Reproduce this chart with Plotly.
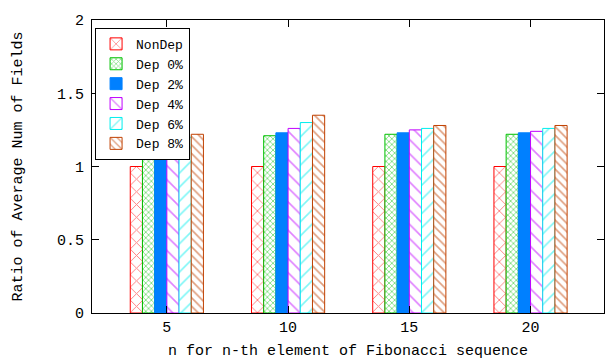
import plotly.graph_objects as go

n_values = [5, 10, 15, 20]
series_names = ["NonDep", "Dep 0%", "Dep 2%", "Dep 4%", "Dep 6%", "Dep 8%"]
nondep = [1.00, 1.00, 1.00, 1.00]
dep0 = [1.17, 1.21, 1.22, 1.22]
dep2 = [1.18, 1.23, 1.23, 1.23]
dep4 = [1.19, 1.26, 1.25, 1.24]
dep6 = [1.20, 1.30, 1.26, 1.26]
dep8 = [1.22, 1.35, 1.28, 1.28]
y_ticks = [0, 0.5, 1, 1.5, 2]
y_tick_labels = ["0", "0.5", "1", "1.5", "2"]

series_values = [nondep, dep0, dep2, dep4, dep6, dep8]
colors = ["#ff0000", "#00c000", "#0080ff", "#c000ff", "#00eeee", "#c04000"]
patterns = [("x", 9, 0.2), ("x", 4, 0.4), ("", 8, 0.3), ("\\", 10, 0.16),
            ("/", 10, 0.16), ("\\", 6, 0.28)]

FONT = "Liberation Mono, DejaVu Sans Mono, monospace"
bar_w = 0.503

fig = go.Figure()
for i, (name, vals, col, pat) in enumerate(zip(series_names, series_values, colors, patterns)):
    offset = (i - 3) * bar_w
    shape, size, sol = pat
    if shape == "":
        marker = dict(color=col, line=dict(color=col, width=1))
    else:
        marker = dict(color="white", line=dict(color=col, width=1),
                      pattern=dict(shape=shape, fgcolor=col, bgcolor="white",
                                   size=size, solidity=sol, fillmode="overlay"))
    fig.add_trace(go.Bar(x=n_values, y=vals, name=name, width=bar_w,
                         offset=offset, marker=marker))

axis_common = dict(showline=True, linecolor="black", linewidth=1, mirror="ticks",
                   ticks="inside", ticklen=7, tickcolor="black", showgrid=False,
                   zeroline=False, automargin=False,
                   tickfont=dict(family=FONT, size=15, color="black"))

fig.update_xaxes(range=[1.913, 23.03], tickvals=n_values,
                 ticktext=[str(v) for v in n_values],
                 title=dict(text="n for n-th element of Fibonacci sequence",
                            font=dict(family=FONT, size=15, color="black"), standoff=8),
                 **axis_common)
fig.update_yaxes(range=[0, 2], tickvals=y_ticks, ticktext=y_tick_labels,
                 title=dict(text="Ratio of Average Num of Fields",
                            font=dict(family=FONT, size=15, color="black"), standoff=30),
                 ticklabelstandoff=4,
                 **axis_common)

fig.update_layout(
    width=607, height=363,
    margin=dict(l=92, r=3, t=20, b=50),
    plot_bgcolor="white", paper_bgcolor="white",
    barmode="overlay",
    showlegend=True,
    legend=dict(x=0.006, y=0.973, xanchor="left", yanchor="top",
                bordercolor="black", borderwidth=1, bgcolor="white",
                font=dict(family=FONT, size=13, color="black"),
                tracegroupgap=0, itemwidth=30),
)

fig.write_html("out.html", config={"displayModeBar": False},
               post_script="document.body.style.margin='0px';document.body.style.overflow='hidden';")
